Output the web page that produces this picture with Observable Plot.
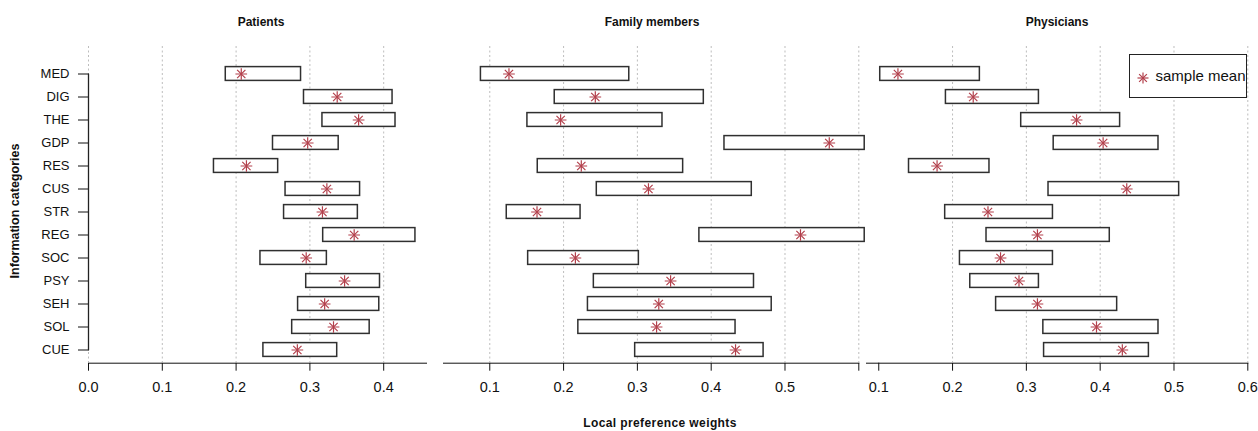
<!DOCTYPE html>
<html>
<head>
<meta charset="utf-8">
<script src="https://cdn.jsdelivr.net/npm/d3@7"></script>
<script src="https://cdn.jsdelivr.net/npm/@observablehq/plot@0.6"></script>
<style>
  html, body { margin: 0; padding: 0; background: #fff; }
  #root { position: relative; width: 1258px; height: 431px; overflow: hidden; font-family: "Liberation Sans", Arial, sans-serif; color: #111; }
  #root svg { position: absolute; top: 0; overflow: visible; }
  #root svg g[aria-label^="y-axis"] { font-size: 13px; }
  .ttl { position: absolute; font-weight: bold; font-size: 12px; white-space: nowrap; transform: translate(-50%, -50%); }
  .legend { position: absolute; left: 1128.5px; top: 54px; width: 116px; height: 42px; border: 1.3px solid #222; background: #fff; }
  .legend span { position: absolute; left: 26px; top: 12px; font-size: 15px; white-space: nowrap; color: #111; }
</style>
</head>
<body>
<div id="root"></div>
<script>
// ---- data ----
const cats = ["MED","DIG","THE","GDP","RES","CUS","STR","REG","SOC","PSY","SEH","SOL","CUE"];

const patLo   = [0.186,0.292,0.317,0.250,0.170,0.267,0.265,0.318,0.233,0.295,0.284,0.276,0.237];
const patHi   = [0.288,0.412,0.416,0.339,0.257,0.368,0.365,0.443,0.323,0.395,0.394,0.381,0.337];
const patMean = [0.207,0.337,0.366,0.297,0.214,0.323,0.317,0.360,0.295,0.347,0.320,0.332,0.283];

const famLo   = [0.088,0.188,0.151,0.418,0.165,0.245,0.123,0.384,0.152,0.241,0.233,0.220,0.297];
const famHi   = [0.289,0.390,0.334,0.608,0.362,0.455,0.223,0.608,0.302,0.458,0.482,0.433,0.471];
const famMean = [0.126,0.243,0.196,0.560,0.224,0.315,0.164,0.521,0.216,0.345,0.329,0.326,0.433];

const phyLo   = [0.102,0.191,0.293,0.337,0.141,0.330,0.190,0.246,0.210,0.224,0.259,0.323,0.324];
const phyHi   = [0.237,0.317,0.427,0.479,0.250,0.507,0.336,0.413,0.336,0.317,0.423,0.479,0.466];
const phyMean = [0.126,0.228,0.368,0.404,0.179,0.436,0.248,0.315,0.265,0.290,0.315,0.395,0.430];

const panelTitles = ["Patients", "Family members", "Physicians"];
const ticks1 = [0.0, 0.1, 0.2, 0.3, 0.4];
const ticks2 = [0.1, 0.2, 0.3, 0.4, 0.5, 0.6];
const ticks3 = [0.1, 0.2, 0.3, 0.4, 0.5, 0.6];
const grid1 = [0.0, 0.1, 0.2, 0.3, 0.4];
const grid2 = [0.1, 0.2, 0.3, 0.4, 0.5, 0.6];
const grid3 = [0.2, 0.3, 0.4, 0.5, 0.6];
const hiddenLabels2 = [0.6];
const xLabel = "Local preference weights";
const yLabel = "Information categories";
const legendLabel = "sample mean";

// ---- drawing ----
const H = 431;
const RED = "#b3404c";
const fmt = d3.format(".1f");
const rows = (lo, hi, mean) => cats.map((c, i) => ({cat: c, lo: lo[i], hi: hi[i], mean: mean[i]}));

function panel({data, left, width, mL, mR, domain, ticks, grid, hidden = [], showY = false}) {
  const marks = [
    Plot.ruleX(grid, {stroke: "#bdbdbd", strokeWidth: 1, strokeDasharray: "2,2.5"}),
    Plot.barX(data, {x1: "lo", x2: "hi", y: "cat", fill: "white", stroke: "#303030", strokeWidth: 1.5, insetTop: 4.6, insetBottom: 4.6}),
    Plot.dot(data, {x: "mean", y: "cat", symbol: "plus", r: 3.85, stroke: RED, strokeWidth: 1.2}),
    Plot.dot(data, {x: "mean", y: "cat", symbol: "times", r: 3.85, stroke: RED, strokeWidth: 1.2})
  ];
  if (showY) {
    marks.push(Plot.line([cats[0], cats[cats.length - 1]], {x: () => domain[0], y: d => d, stroke: "#222", strokeWidth: 1.3}));
  }
  const svg = Plot.plot({
    width, height: H,
    marginLeft: mL, marginRight: mR, marginTop: 46, marginBottom: 68.3,
    style: {background: "transparent", fontFamily: "'Liberation Sans', Arial, sans-serif", fontSize: "14.5px", color: "#111", overflow: "visible"},
    x: {domain, ticks, tickSize: 8, tickPadding: 11, line: true, label: null,
        tickFormat: d => hidden.includes(d) ? "" : fmt(d)},
    y: {type: "band", domain: cats, range: [59.7, 362.4], padding: 0, label: null,
        axis: showY ? "left" : null, tickSize: 10, tickPadding: 9},
    marks
  });
  svg.style.left = left + "px";
  return svg;
}

const root = document.getElementById("root");
root.appendChild(panel({data: rows(patLo, patHi, patMean), left: 0, width: 436, mL: 88, mR: 10,
  domain: [0, 0.458], ticks: ticks1, grid: grid1, showY: true}));
root.appendChild(panel({data: rows(famLo, famHi, famMean), left: 436, width: 430, mL: 7, mR: 7.7,
  domain: [0.0373, 0.6], ticks: ticks2, grid: grid2, hidden: hiddenLabels2}));
root.appendChild(panel({data: rows(phyLo, phyHi, phyMean), left: 862, width: 396, mL: 4, mR: 10.7,
  domain: [0.0834, 0.6], ticks: ticks3, grid: grid3}));

// titles and labels
const addText = (txt, x, y, extra = "") => {
  const d = document.createElement("div");
  d.className = "ttl";
  d.textContent = txt;
  d.style.cssText = `left:${x}px;top:${y}px;${extra}`;
  root.appendChild(d);
};
addText(panelTitles[0], 261, 22);
addText(panelTitles[1], 652, 22);
addText(panelTitles[2], 1057, 22);
addText(xLabel, 660, 423, "letter-spacing:0.4px;");
addText(yLabel, 15, 211, "font-size:12.5px;transform: translate(-50%,-50%) rotate(-90deg);");

// legend
const lg = document.createElement("div");
lg.className = "legend";
lg.innerHTML = `<svg width="14" height="14" style="position:absolute;left:6px;top:16px" viewBox="-7 -7 14 14">
  <g stroke="${RED}" stroke-width="1.2"><line x1="-5.5" y1="0" x2="5.5" y2="0"/><line x1="0" y1="-5.5" x2="0" y2="5.5"/>
  <line x1="-3.9" y1="-3.9" x2="3.9" y2="3.9"/><line x1="-3.9" y1="3.9" x2="3.9" y2="-3.9"/></g></svg>
  <span>${legendLabel}</span>`;
root.appendChild(lg);
</script>
</body>
</html>
